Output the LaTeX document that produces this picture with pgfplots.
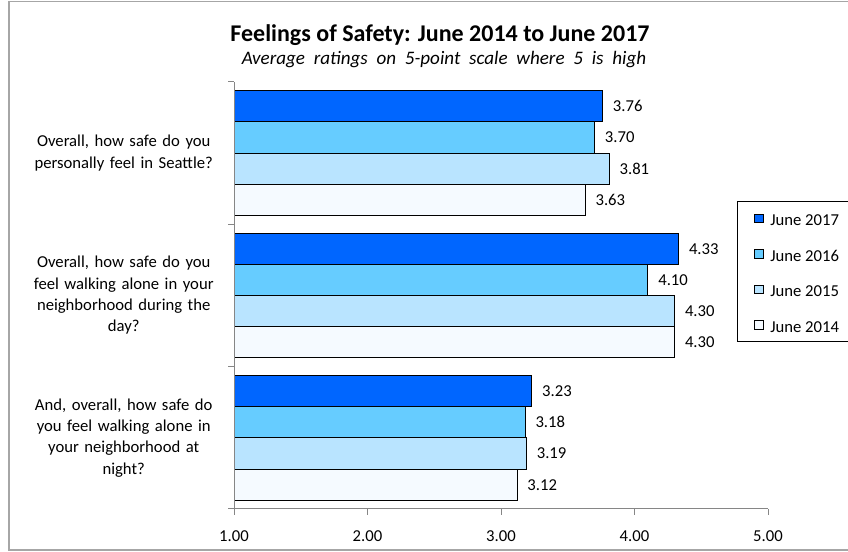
\documentclass[border=0pt]{standalone}
\usepackage{fontspec}
\setmainfont{Carlito}
\usepackage{pgfplots}
\pgfplotsset{compat=1.18}

\definecolor{c2017}{RGB}{0,102,255}
\definecolor{c2016}{RGB}{102,204,255}
\definecolor{c2015}{RGB}{185,228,255}
\definecolor{c2014}{RGB}{245,250,255}
\definecolor{axisgray}{RGB}{134,134,134}
\definecolor{framegray}{RGB}{166,166,166}

\pgfplotsset{
  sq/.style={legend image code/.code={%
    \draw[##1,draw=black,line width=0.7pt] (0pt,-0.6pt) rectangle (6.4pt,5.8pt);}},
  yearbar/.style={xbar, bar width=0.2193, bar shift=0pt, fill=#1, draw=black, line width=0.7pt, sq},
}

\begin{document}
\begin{tikzpicture}
\useasboundingbox (0,0) rectangle (636pt,414pt);
\clip (0,0) rectangle (636pt,414pt);

% outer chart frame
\draw[framegray, line width=1.3pt, fill=white] (6.75pt,1.4pt) rectangle (700pt,412.9pt);

% titles
\node[anchor=base, font=\bfseries\fontsize{18}{21}\selectfont] at (330pt,382.5pt)
  {Feelings of Safety: June 2014 to June 2017};
\node[anchor=base, font=\itshape\fontsize{14.3}{17}\selectfont] at (333pt,365.5pt)
  {\spaceskip=0.46em Average ratings on 5-point scale where 5 is high};

\begin{axis}[
  at={(175.5pt,32.25pt)}, anchor=south west,
  scale only axis, width=400.5pt, height=320.25pt,
  xmin=1, xmax=5, ymin=-0.5, ymax=2.5,
  axis x line*=bottom, axis y line*=left,
  axis line style={axisgray, line width=0.75pt},
  axis on top,
  tick align=outside, major tick length=4.5pt,
  tick style={axisgray, line width=0.75pt},
  /pgf/number format/assume math mode=true,
  font=\fontsize{12.5}{16}\selectfont,
  xtick={1,2,3,4,5},
  xticklabel={\pgfmathprintnumber[fixed,fixed zerofill,precision=2]{\tick}},
  xticklabel style={anchor=center, yshift=-16pt},
  ytick={-0.5,0.5,1.5,2.5}, yticklabels={},
  extra y ticks={0,1,2},
  extra y tick labels={
    {And, overall, how safe do\\you feel walking alone in\\your neighborhood at\\night?},
    {Overall, how safe do you\\feel walking alone in your\\neighborhood during the\\day?},
    {Overall, how safe do you\\personally feel in Seattle?}},
  extra y tick style={major tick length=0pt,
    yticklabel style={text width=150pt, align=center, anchor=east, inner sep=0pt, xshift=-7.5pt,
      font=\fontsize{12.5}{16}\selectfont}},
  point meta=x,
  nodes near coords={\pgfmathprintnumber[fixed,fixed zerofill,precision=2]{\pgfplotspointmeta}},
  nodes near coords style={anchor=west, inner sep=0pt, xshift=7.5pt, black,
    font=\fontsize{12.5}{16}\selectfont},
  legend style={at={(0.9738,0.6925)}, anchor=north west, draw=none, fill=none,
    inner sep=0pt, row sep=14.5pt, column sep=4.9pt,
    font=\fontsize{12.5}{16}\selectfont,
    nodes={inner sep=0pt, text height=9pt, text depth=3pt}},
  legend cell align=left,
]
% groups: Seattle around y=2, daytime around y=1, night around y=0;
% the four years sit at offsets +0.329, +0.110, -0.110, -0.329
\addplot[yearbar=c2017] coordinates {(3.23,0.329) (4.33,1.329) (3.76,2.329)};
\addplot[yearbar=c2016] coordinates {(3.18,0.110) (4.10,1.110) (3.70,2.110)};
\addplot[yearbar=c2015] coordinates {(3.19,-0.110) (4.30,0.890) (3.81,1.890)};
\addplot[yearbar=c2014] coordinates {(3.12,-0.329) (4.30,0.671) (3.63,1.671)};
\legend{June 2017, June 2016, June 2015, June 2014}
\end{axis}

% legend frame
\draw[black, line width=0.75pt] (552.75pt,262.5pt) rectangle (660pt,157.5pt);
\end{tikzpicture}
\end{document}
